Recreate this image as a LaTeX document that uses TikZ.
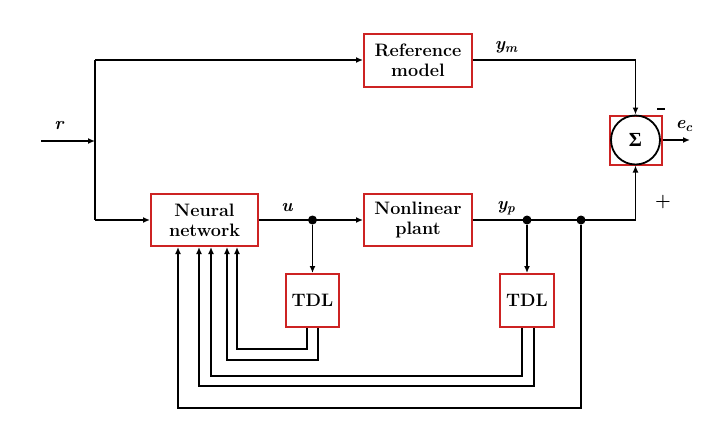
\documentclass[tikz,border=0pt]{standalone}
\usepackage{fontspec}
\newfontfamily\sigfont{Liberation Serif}
\usetikzlibrary{arrows.meta}
\definecolor{redc}{RGB}{205,35,35}
\newcommand{\lab}[2]{{\bfseries\itshape #1}\raisebox{-3pt}{\fontsize{13}{13}\selectfont\bfseries\itshape #2}}
\begin{document}
\begin{tikzpicture}[x=1pt,y=-1pt,
  blk/.style={draw=redc, line width=2pt, fill=white, align=center, inner sep=0pt,
    font=\bfseries\fontsize{18}{20}\selectfont},
  wire/.style={line width=1.8pt},
  arr/.style={wire,-{Latex[length=7pt,width=6pt]}},
  jdot/.style={circle, fill=black, inner sep=0pt, minimum size=9pt},
  lbl/.style={font=\fontsize{18}{20}\selectfont, inner sep=0pt}]
\useasboundingbox (0,0) rectangle (726,424);
\fill[white] (0,0) rectangle (726,424);
% blocks
\node[blk, minimum width=108pt, minimum height=53pt] (ref) at (418,60) {Reference\\model};
\node[blk, minimum width=107pt, minimum height=52pt] (nn) at (204.5,220) {Neural\\network};
\node[blk, minimum width=108pt, minimum height=52pt] (np) at (418,220) {Nonlinear\\plant};
\node[blk, minimum width=53pt, minimum height=53pt] (tdl1) at (312.5,300.5) {TDL};
\node[blk, minimum width=54pt, minimum height=53pt] (tdl2) at (527,300.5) {TDL};
\node[draw=redc, line width=2pt, minimum width=52pt, minimum height=49pt, inner sep=0pt] (sumb) at (635.5,140) {};
\draw[wire] (sumb.center) circle (24.5pt);
\node[lbl] (sig) at (sumb.center) {\sigfont\bfseries\fontsize{20}{22}\selectfont Σ};
% coordinates
\coordinate (rin) at (41,141);
\coordinate (rj) at (95,141);
\coordinate (tl) at (95,60);
\coordinate (bl) at (95,220);
\coordinate (eout) at (690,140);
\node[jdot] (ju) at (312.5,220) {};
\node[jdot] (jp1) at (527,220) {};
\node[jdot] (jp2) at (581,220) {};
% main wires
\draw[arr] (rin) -- (rj);
\draw[wire] (tl) -- (bl);
\draw[arr] (tl) -- (ref.west);
\draw[arr] (bl) -- (nn.west);
\draw[arr] (nn.east) -- (np.west);
\draw[arr] (ju) -- (tdl1.north);
\draw[arr] (np.east) -| (sumb.south);
\draw[arr] (ref.east) -| (sumb.north);
\draw[arr] (sumb.east) -- (eout);
\draw[arr] (jp1) -- (tdl2.north);
% feedback wires
\draw[arr] ([xshift=-5.5pt]tdl1.south) -- ++(0,21) -| ([xshift=32.5pt]nn.south);
\draw[arr] ([xshift=5.5pt]tdl1.south) -- ++(0,32) -| ([xshift=22.5pt]nn.south);
\draw[arr] ([xshift=-5pt]tdl2.south) -- ++(0,48) -| ([xshift=6.5pt]nn.south);
\draw[arr] ([xshift=7pt]tdl2.south) -- ++(0,58) -| ([xshift=-5.5pt]nn.south);
\draw[arr] (jp2) -- ++(0,188) -| ([xshift=-26.5pt]nn.south);
% labels
\node[lbl] (lr) at (59,125) {\bfseries\itshape r};
\node[lbl] (lu) at (287,207) {\bfseries\itshape u};
\node[lbl] (lym) at (506,47) {\lab{y}{m}};
\node[lbl] (lyp) at (506,208) {\lab{y}{p}};
\node[lbl] (lec) at (684,126) {\lab{e}{c}};
\node[fill=black, minimum width=8pt, minimum height=2.2pt, inner sep=0pt] (lminus) at (661,109) {};
\node[lbl] (lplus) at (663,202) {\bfseries +};
\end{tikzpicture}
\end{document}
